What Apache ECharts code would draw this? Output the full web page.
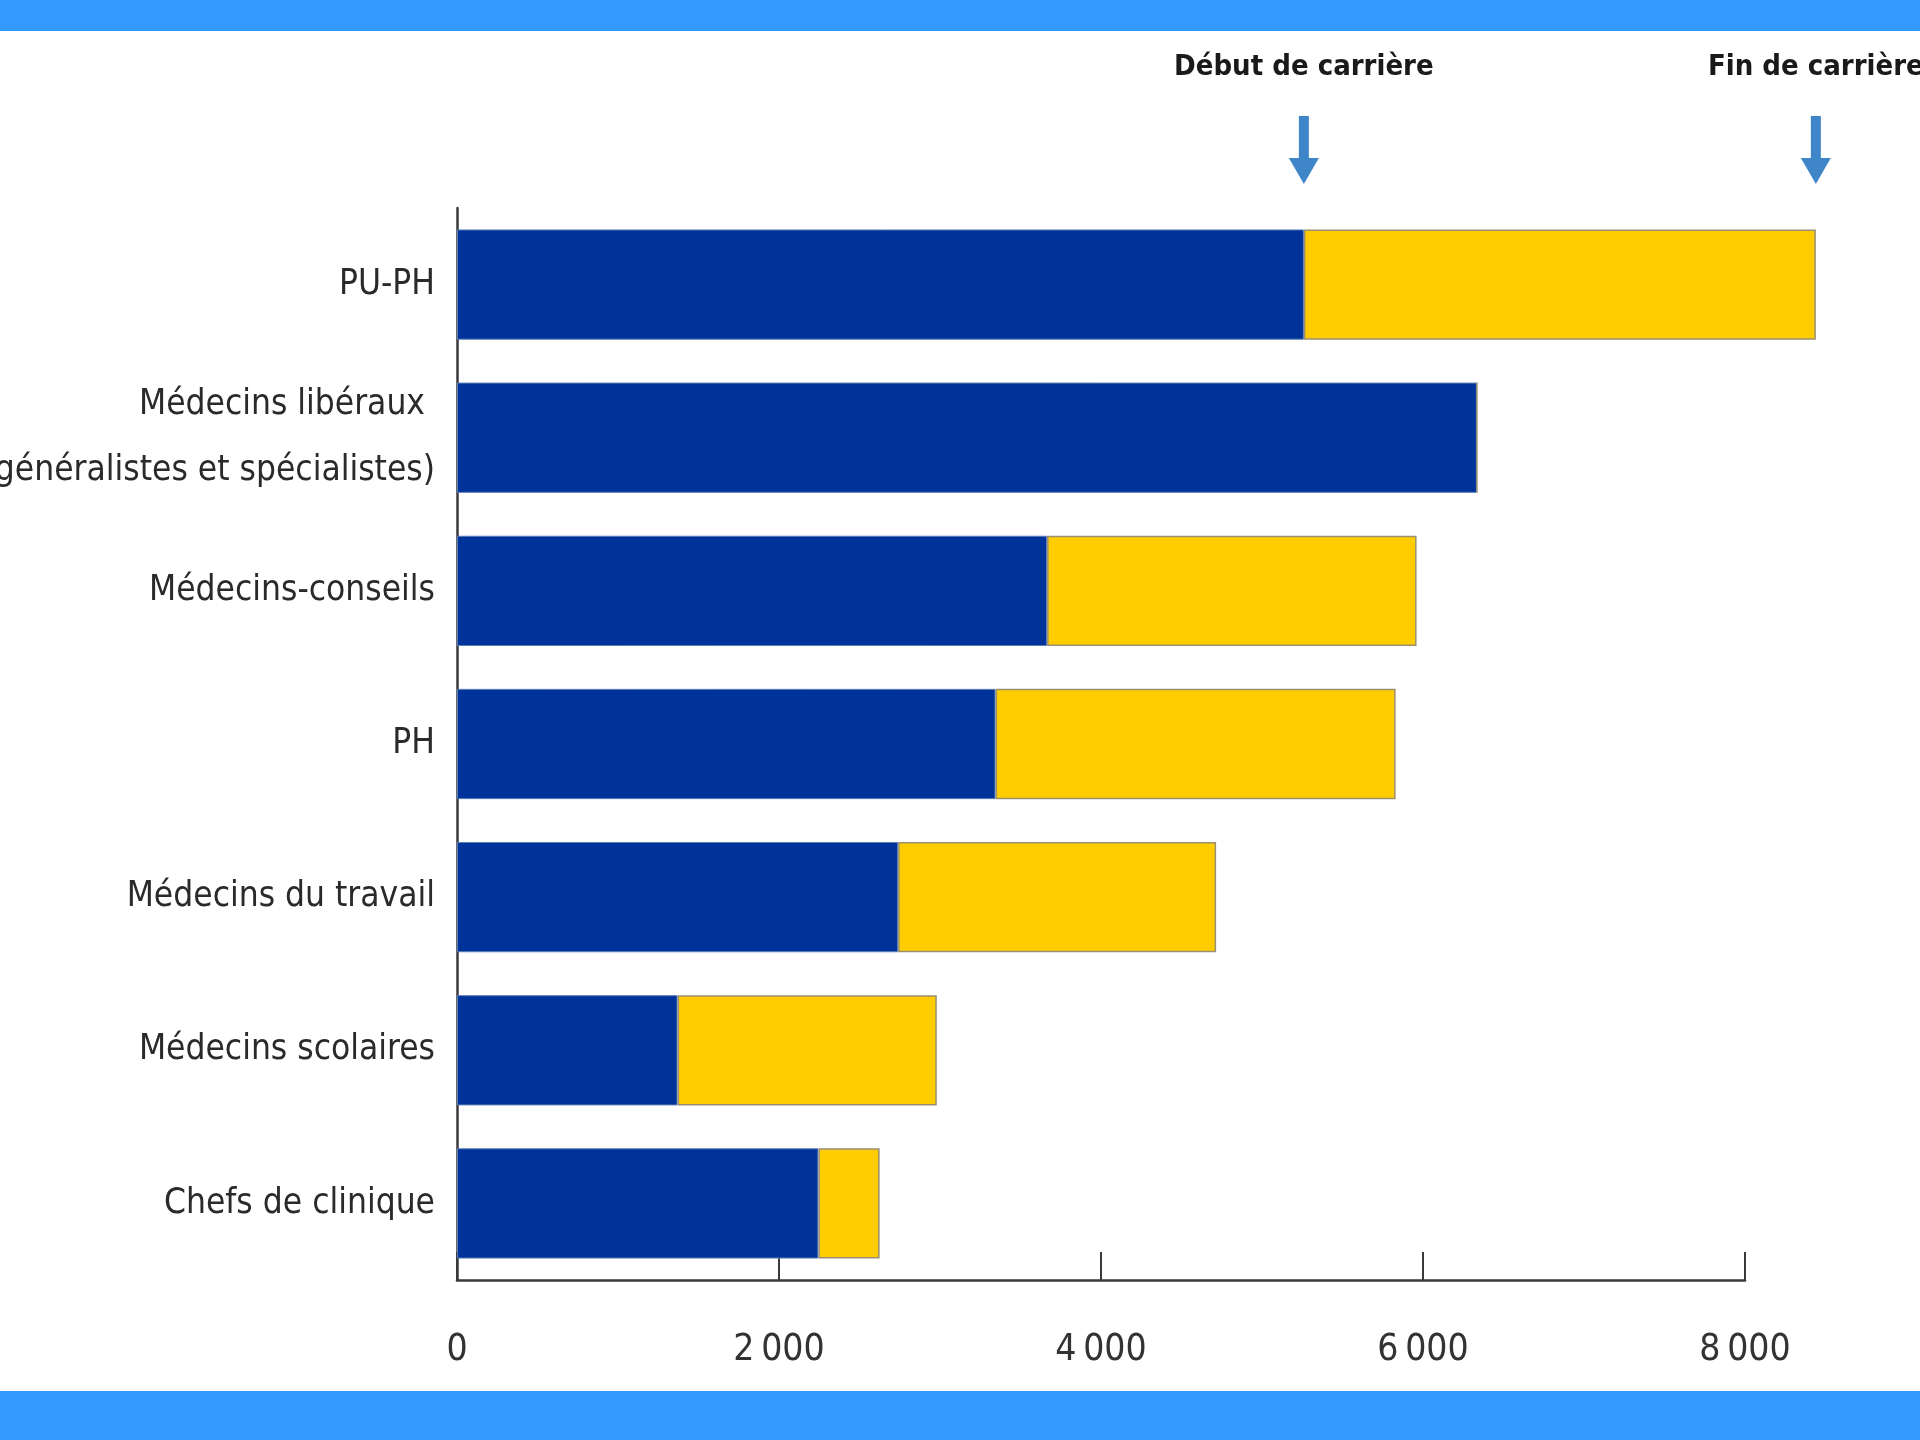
<!DOCTYPE html>
<html>
<head>
<meta charset="utf-8">
<script src="https://cdn.jsdelivr.net/npm/echarts@6/dist/echarts.min.js"></script>
<style>
html,body{margin:0;padding:0;background:#fff;}
#chart{width:1920px;height:1440px;}
</style>
</head>
<body>
<div id="chart"></div>
<script>
const categories = ['PU-PH', 'Médecins libéraux \n(généralistes et spécialistes)', 'Médecins-conseils', 'PH', 'Médecins du travail', 'Médecins scolaires', 'Chefs de clinique'];
const debutCarriere = [5260, 6335, 3665, 3345, 2740, 1370, 2245];
const finCarriere = [8440, null, 5960, 5830, 4715, 2980, 2625];
const xTicks = [0, 2000, 4000, 6000, 8000];
const annotations = ['Début de carrière', 'Fin de carrière'];

const increments = finCarriere.map((v, i) => v == null ? 0 : v - debutCarriere[i]);
const fmt = v => v === 0 ? '0' : String(v).replace(/\B(?=(\d{3})+(?!\d))/g, '\u2009');

const chart = echarts.init(document.getElementById('chart'), null, {renderer: 'canvas'});
const FONT = '"Liberation Sans Narrow", "DejaVu Sans Condensed", sans-serif';

const bands = [
  {id: 'bandTop', type: 'rect', left: 0, top: 0, shape: {width: 1920, height: 31}, style: {fill: '#3399FF'}, z: 100},
  {id: 'bandBottom', type: 'rect', left: 0, top: 1391, shape: {width: 1920, height: 49}, style: {fill: '#3399FF'}, z: 100}
];

chart.setOption({
  animation: false,
  backgroundColor: '#ffffff',
  grid: {left: 457, right: 175, top: 208, bottom: 160, containLabel: false, outerBoundsMode: 'none'},
  xAxis: {
    type: 'value',
    min: xTicks[0],
    max: xTicks[xTicks.length - 1],
    interval: 2000,
    axisLine: {show: true, lineStyle: {color: '#3a3a3a', width: 2.5}},
    axisTick: {show: true, inside: true, length: 28, lineStyle: {color: '#3a3a3a', width: 2}},
    splitLine: {show: false},
    axisLabel: {
      formatter: fmt,
      fontFamily: FONT, fontSize: 37, color: '#333',
      margin: 52
    }
  },
  yAxis: {
    type: 'category',
    inverse: true,
    data: categories,
    axisLine: {show: true, lineStyle: {color: '#3a3a3a', width: 2.5}},
    axisTick: {show: false},
    axisLabel: {
      fontFamily: FONT, fontSize: 35, color: '#2a2a2a',
      lineHeight: 66, margin: 22, align: 'right', padding: [12, 0, 0, 0]
    }
  },
  series: [
    {
      name: annotations[0],
      type: 'bar',
      stack: 'total',
      barWidth: '72%',
      clip: false,
      data: debutCarriere,
      itemStyle: {color: '#003399', borderColor: '#5a7fb8', borderWidth: 1}
    },
    {
      name: annotations[1],
      type: 'bar',
      stack: 'total',
      barWidth: '72%',
      clip: false,
      data: increments,
      itemStyle: {color: '#FFCC00', borderColor: '#9a9070', borderWidth: 1.5}
    }
  ],
  graphic: bands
});

// Annotation arrows placed at the PU-PH start/end values via the axis scale
const markers = [debutCarriere[0], finCarriere[0]];
const extra = bands.slice();
markers.forEach((v, i) => {
  const x = chart.convertToPixel({gridIndex: 0}, [v, 0])[0];
  extra.push({
    id: 'arrow' + i, type: 'polygon', z: 50,
    shape: {points: [[x - 5, 116], [x + 5, 116], [x + 5, 158], [x + 15, 158], [x, 184], [x - 15, 158], [x - 5, 158]]},
    style: {fill: '#3f86c9'}
  });
  extra.push({
    id: 'label' + i, type: 'text', z: 50,
    x: x, y: 67,
    style: {
      text: annotations[i], fontFamily: FONT, fontSize: 29, fontWeight: 'bold',
      fill: '#1a1a1a', align: 'center', verticalAlign: 'middle'
    }
  });
});
chart.setOption({graphic: extra}, {replaceMerge: ['graphic']});
</script>
</body>
</html>
